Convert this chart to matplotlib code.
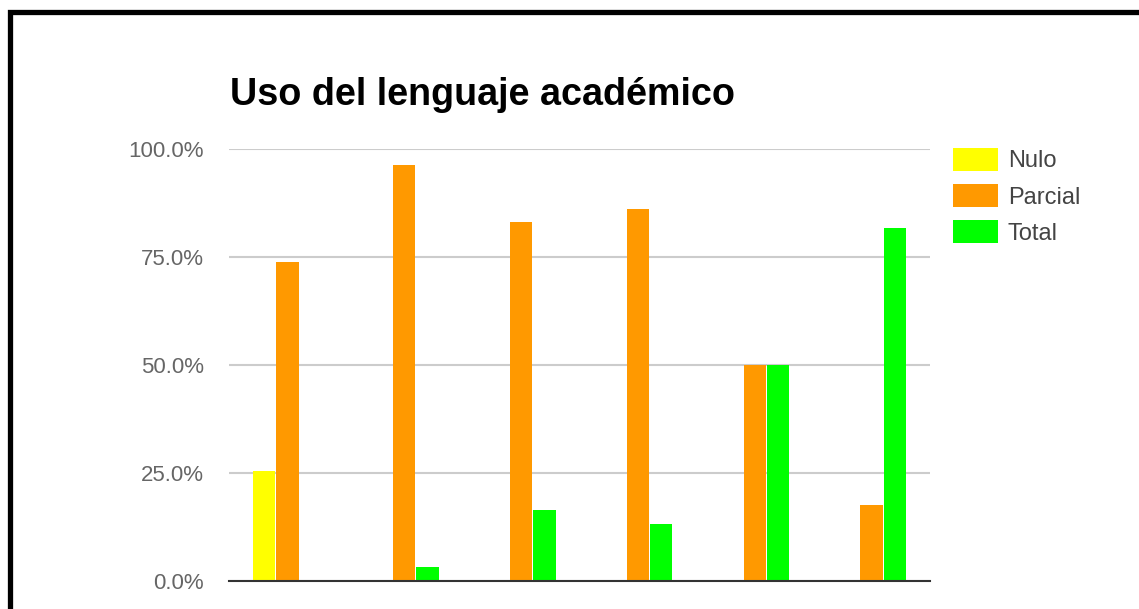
import matplotlib
matplotlib.use("Agg")
import matplotlib.pyplot as plt
import numpy as np
from matplotlib.patches import Rectangle

plt.rcParams["font.family"] = ["Liberation Sans", "DejaVu Sans"]

# share of each level per item (percent)
groups = ["1", "2", "3", "4", "5", "6"]
series_names = ["Nulo", "Parcial", "Total"]
nulo = [25.5, 0, 0, 0, 0, 0]
parcial = [73.9, 96.3, 83.1, 86.1, 50.0, 17.6]
total = [0, 3.2, 16.3, 13.2, 50.0, 81.7]
colors = ["#ffff00", "#ff9900", "#00ff00"]
yticks = [0, 25, 50, 75, 100]

W, H = 1139, 609
fig = plt.figure(figsize=(W / 100, H / 100), dpi=100)
fig.patch.set_facecolor("white")

ax = fig.add_axes([229 / W, (H - 580.7) / H, 701 / W, 431.4 / H])

x = np.arange(len(groups))
width = 0.2
for i, (name, vals, c) in enumerate(zip(series_names, [nulo, parcial, total], colors)):
    ax.bar(x + (i - 1) * width, vals, width * 0.96, color=c, label=name, zorder=3)

ax.set_xlim(-0.5, len(groups) - 0.5)
ax.set_ylim(0, 100)
ax.set_yticks(yticks)
ax.set_yticklabels([f"{v:.1f}%" for v in yticks], color="#666666", fontsize=16)
ax.tick_params(axis="y", length=0, pad=18)
ax.set_xticks([])
ax.grid(axis="y", color="#cccccc", linewidth=1.5, zorder=0)
for s in ["top", "right", "left"]:
    ax.spines[s].set_visible(False)
ax.spines["bottom"].set_color("#333333")
ax.spines["bottom"].set_linewidth(1.5)
ax.spines["bottom"].set_zorder(4)

fig.text(230 / W, 1 - 95 / H, "Uso del lenguaje académico", fontsize=27.2,
         fontweight="bold", color="#000000", ha="left", va="center")

leg = ax.legend(loc="upper left", bbox_to_anchor=(953 / W, 1 - 148 / H),
                bbox_transform=fig.transFigure, frameon=False, fontsize=17,
                handlelength=1.9, handleheight=1.1, handletextpad=0.42,
                labelspacing=0.5, borderpad=0, borderaxespad=0)
for t in leg.get_texts():
    t.set_color("#444444")

# thick black frame, open at the right and bottom edges
fig.add_artist(Rectangle((9.5 / W, -0.2), 1.5, 1 - 11.5 / H + 0.2,
                         transform=fig.transFigure, fill=False,
                         edgecolor="black", linewidth=3.8, clip_on=False))

fig.savefig("out.png", dpi=100)
